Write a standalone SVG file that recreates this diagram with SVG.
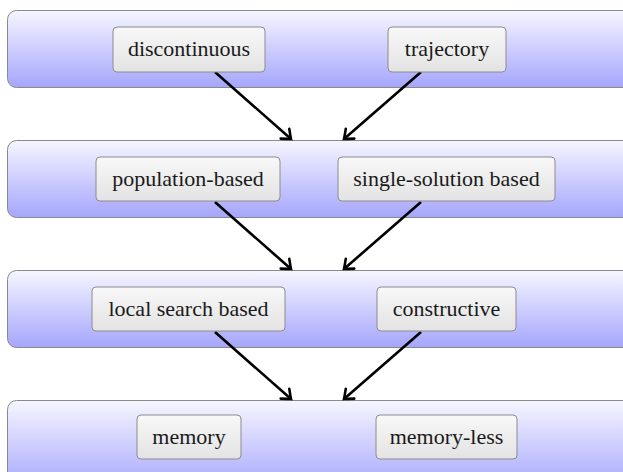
<svg xmlns="http://www.w3.org/2000/svg" width="623" height="472" viewBox="0 0 623 472">
<style>
.band{fill:url(#bandGrad);stroke:#8a8a8a;stroke-width:1}
.node{fill:url(#nodeGrad);stroke:#8c8c8c;stroke-width:1}
.edge{stroke:#000;stroke-width:2.6;fill:none;marker-end:url(#arrow)}
.label{font-family:"Liberation Serif","DejaVu Serif",serif;font-size:22px;fill:#1a1a1a;text-anchor:middle}
</style>
<defs>
<linearGradient id="bandGrad" x1="0" y1="0" x2="0" y2="1">
<stop offset="0" stop-color="#f6f6ff"/>
<stop offset="1" stop-color="#a5a5fd"/>
</linearGradient>
<linearGradient id="nodeGrad" x1="0" y1="0" x2="0" y2="1">
<stop offset="0" stop-color="#f8f8f8"/>
<stop offset="1" stop-color="#e3e3e3"/>
</linearGradient>
<marker id="arrow" markerUnits="userSpaceOnUse" markerWidth="20" markerHeight="20" viewBox="-12 -10 14 20" refX="0" refY="0" orient="auto">
<path d="M -8,-6.5 Q -2,-1.5 0,0 Q -2,1.5 -8,6.5" stroke="#000" stroke-width="2.6" fill="none" stroke-linecap="round"/>
</marker>
</defs>
<g id="band1"><rect class="band" x="7.5" y="10.5" width="630" height="77" rx="9"/></g>
<g id="band2"><rect class="band" x="7.5" y="140.5" width="630" height="77" rx="9"/></g>
<g id="band3"><rect class="band" x="7.5" y="270.5" width="630" height="77" rx="9"/></g>
<g id="band4"><rect class="band" x="7.5" y="400.5" width="630" height="90" rx="9"/></g>
<g id="edges">
<line class="edge" x1="215" y1="72" x2="291" y2="139"/>
<line class="edge" x1="421" y1="72" x2="344" y2="139"/>
<line class="edge" x1="215" y1="202" x2="291" y2="269"/>
<line class="edge" x1="421" y1="202" x2="344" y2="269"/>
<line class="edge" x1="215" y1="332" x2="291" y2="399"/>
<line class="edge" x1="421" y1="332" x2="344" y2="399"/>
</g>
<g id="n-discontinuous"><rect class="node" x="113" y="27" width="152" height="45" rx="4"/><text class="label" x="189" y="56">discontinuous</text></g>
<g id="n-trajectory"><rect class="node" x="388" y="27" width="118" height="45" rx="4"/><text class="label" x="447" y="56">trajectory</text></g>
<g id="n-population"><rect class="node" x="96" y="157" width="184" height="44" rx="4"/><text class="label" x="188" y="186">population-based</text></g>
<g id="n-single"><rect class="node" x="338" y="157" width="217" height="44" rx="4"/><text class="label" x="446.5" y="186">single-solution based</text></g>
<g id="n-local"><rect class="node" x="92" y="287" width="193" height="44" rx="4"/><text class="label" x="188.5" y="316">local search based</text></g>
<g id="n-constructive"><rect class="node" x="377" y="287" width="139" height="44" rx="4"/><text class="label" x="446.5" y="316">constructive</text></g>
<g id="n-memory"><rect class="node" x="137" y="415" width="104" height="44" rx="4"/><text class="label" x="189" y="444">memory</text></g>
<g id="n-memoryless"><rect class="node" x="376" y="415" width="141" height="44" rx="4"/><text class="label" x="446.5" y="444">memory-less</text></g>
</svg>
